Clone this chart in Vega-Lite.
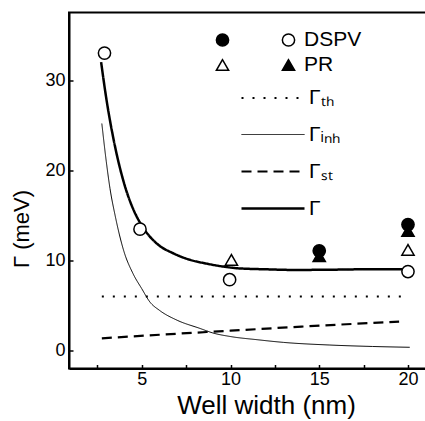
{
  "$schema": "https://vega.github.io/schema/vega-lite/v6.json",
  "width": 394,
  "height": 356,
  "autosize": "none",
  "padding": {"left": 69, "top": 12.5, "right": 0, "bottom": 52.5},
  "background": "white",
  "config": {
    "font": "Liberation Sans",
    "view": {"stroke": "black", "strokeWidth": 2},
    "axis": {
      "domainColor": "black", "domainWidth": 2,
      "tickColor": "black", "tickWidth": 1.5, "tickSize": -4,
      "labelFontSize": 18, "labelColor": "black", "titleColor": "black",
      "grid": false, "labelFlush": false, "labelOverlap": false,
      "titleFontWeight": "normal", "titleFont": "Liberation Sans", "labelFont": "Liberation Sans"
    },
    "legend": {"labelFontSize": 21, "labelColor": "black", "labelFont": "Liberation Sans", "padding": 0, "symbolOpacity": 1}
  },
  "datasets": {
    "curves": [
      {"x": 2.75, "y": 6.05, "curve": "Γₜₕ"},
      {"x": 19.7, "y": 6.05, "curve": "Γₜₕ"},
      {"x": 2.75, "y": 25.2, "curve": "Γᵢₙₕ"},
      {"x": 3.0, "y": 21.0, "curve": "Γᵢₙₕ"},
      {"x": 3.21, "y": 18.0, "curve": "Γᵢₙₕ"},
      {"x": 3.5, "y": 15.0, "curve": "Γᵢₙₕ"},
      {"x": 4.0, "y": 11.0, "curve": "Γᵢₙₕ"},
      {"x": 4.5, "y": 8.6, "curve": "Γᵢₙₕ"},
      {"x": 5.0, "y": 6.9, "curve": "Γᵢₙₕ"},
      {"x": 5.47, "y": 5.4, "curve": "Γᵢₙₕ"},
      {"x": 6.0, "y": 4.5, "curve": "Γᵢₙₕ"},
      {"x": 7.0, "y": 3.4, "curve": "Γᵢₙₕ"},
      {"x": 8.28, "y": 2.5, "curve": "Γᵢₙₕ"},
      {"x": 9.0, "y": 2.0, "curve": "Γᵢₙₕ"},
      {"x": 10.0, "y": 1.6, "curve": "Γᵢₙₕ"},
      {"x": 11.5, "y": 1.25, "curve": "Γᵢₙₕ"},
      {"x": 13.0, "y": 0.95, "curve": "Γᵢₙₕ"},
      {"x": 15.6, "y": 0.66, "curve": "Γᵢₙₕ"},
      {"x": 18.0, "y": 0.5, "curve": "Γᵢₙₕ"},
      {"x": 20.1, "y": 0.41, "curve": "Γᵢₙₕ"},
      {"x": 2.75, "y": 1.4, "curve": "Γₛₜ"},
      {"x": 6.0, "y": 1.8, "curve": "Γₛₜ"},
      {"x": 10.0, "y": 2.25, "curve": "Γₛₜ"},
      {"x": 14.0, "y": 2.7, "curve": "Γₛₜ"},
      {"x": 19.5, "y": 3.25, "curve": "Γₛₜ"},
      {"x": 2.71, "y": 32.0, "curve": "Γ"},
      {"x": 3.0, "y": 28.0, "curve": "Γ"},
      {"x": 3.5, "y": 22.6, "curve": "Γ"},
      {"x": 4.0, "y": 18.6, "curve": "Γ"},
      {"x": 4.5, "y": 15.8, "curve": "Γ"},
      {"x": 5.0, "y": 13.9, "curve": "Γ"},
      {"x": 5.85, "y": 11.9, "curve": "Γ"},
      {"x": 6.8, "y": 10.8, "curve": "Γ"},
      {"x": 7.72, "y": 10.1, "curve": "Γ"},
      {"x": 8.6, "y": 9.7, "curve": "Γ"},
      {"x": 9.6, "y": 9.35, "curve": "Γ"},
      {"x": 10.5, "y": 9.15, "curve": "Γ"},
      {"x": 12.0, "y": 9.05, "curve": "Γ"},
      {"x": 13.5, "y": 8.98, "curve": "Γ"},
      {"x": 15.5, "y": 9.0, "curve": "Γ"},
      {"x": 17.5, "y": 9.05, "curve": "Γ"},
      {"x": 19.8, "y": 9.05, "curve": "Γ"}
    ],
    "pointsA": [
      {"x": 15.0, "y": 11.1, "series": "DSPV a"},
      {"x": 20.0, "y": 14.0, "series": "DSPV a"},
      {"x": 10.05, "y": 10.1, "series": "PR a"},
      {"x": 20.0, "y": 11.2, "series": "PR a"}
    ],
    "pointsB": [
      {"x": 2.9, "y": 33.0, "series": "DSPV b"},
      {"x": 4.9, "y": 13.5, "series": "DSPV b"},
      {"x": 9.95, "y": 7.9, "series": "DSPV b"},
      {"x": 20.0, "y": 8.8, "series": "DSPV b"},
      {"x": 15.0, "y": 10.5, "series": "PR b"},
      {"x": 20.0, "y": 13.3, "series": "PR b"}
    ]
  },
  "encoding": {
    "x": {
      "field": "x", "type": "quantitative",
      "scale": {"domain": [0.9, 23.1], "nice": false, "zero": false},
      "axis": {
        "values": [2.5, 5, 7.5, 10, 12.5, 15, 17.5, 20, 22.5],
        "labelExpr": "datum.value % 5 === 0 ? datum.label : ''",
        "labelPadding": 5.5,
        "title": "Well width (nm)", "titleFontSize": 26,
        "titleX": 197, "titleY": 44.5, "titleAlign": "center", "titleBaseline": "alphabetic"
      }
    },
    "y": {
      "field": "y", "type": "quantitative",
      "scale": {"domain": [-1.94, 37.5], "nice": false, "zero": false},
      "axis": {
        "values": [0, 10, 20, 30],
        "labelPadding": 8,
        "title": "Γ (meV)", "titleFontSize": 22, "titleAngle": 270,
        "titleX": -48, "titleY": 216, "titleAlign": "center", "titleBaseline": "middle"
      }
    }
  },
  "layer": [
    {
      "data": {"name": "curves"},
      "mark": {"type": "line", "color": "black", "interpolate": "monotone", "strokeCap": "butt"},
      "encoding": {
        "strokeDash": {
          "field": "curve", "type": "nominal",
          "scale": {"domain": ["Γₜₕ", "Γᵢₙₕ", "Γₛₜ", "Γ"], "range": [[2, 9], [1, 0], [10, 6], [1, 0]]},
          "legend": {"orient": "none", "legendX": 192, "legendY": 74, "title": null, "symbolType": "M-3,0L3,0", "symbolSize": 441, "labelOffset": 24, "rowPadding": 15, "symbolStrokeColor": "black"}
        },
        "strokeWidth": {
          "field": "curve", "type": "nominal",
          "scale": {"type": "ordinal", "domain": ["Γₜₕ", "Γᵢₙₕ", "Γₛₜ", "Γ"], "range": [2, 1, 2.2, 2.5]},
          "legend": {"orient": "none", "legendX": 192, "legendY": 74, "title": null, "symbolType": "M-3,0L3,0", "symbolSize": 441, "labelOffset": 24, "rowPadding": 15, "symbolStrokeColor": "black"}
        }
      }
    },
    {
      "data": {"name": "pointsA"},
      "mark": {"type": "point", "stroke": "black", "strokeWidth": 1.5, "size": 150, "opacity": 1},
      "encoding": {
        "shape": {
          "field": "series", "type": "nominal",
          "scale": {"domain": ["DSPV a", "PR a"], "range": ["circle", "triangle-up"]},
          "legend": {"orient": "none", "legendX": 143, "legendY": 17, "title": null, "symbolSize": 150, "labelOffset": 5, "rowPadding": 3, "labelExpr": "' '",
            "encode": {"symbols": {"update": {"stroke": {"value": "black"}, "strokeWidth": {"value": 1.5}}}}}
        },
        "fill": {
          "field": "series", "type": "nominal",
          "scale": {"domain": ["DSPV a", "PR a"], "range": ["black", "white"]},
          "legend": {"orient": "none", "legendX": 143, "legendY": 17, "title": null, "symbolSize": 150, "labelOffset": 5, "rowPadding": 3, "labelExpr": "' '",
            "encode": {"symbols": {"update": {"stroke": {"value": "black"}, "strokeWidth": {"value": 1.5}}}}}
        }
      }
    },
    {
      "data": {"name": "pointsB"},
      "mark": {"type": "point", "stroke": "black", "strokeWidth": 1.5, "size": 150, "opacity": 1},
      "encoding": {
        "shape": {
          "field": "series", "type": "nominal",
          "scale": {"domain": ["DSPV b", "PR b"], "range": ["circle", "triangle-up"]},
          "legend": {"orient": "none", "legendX": 209, "legendY": 17, "title": null, "symbolSize": 150, "labelOffset": 5, "rowPadding": 3,
            "labelExpr": "datum.value == 'DSPV b' ? 'DSPV' : 'PR'",
            "encode": {"symbols": {"update": {"stroke": {"value": "black"}, "strokeWidth": {"value": 1.5}}}}}
        },
        "fill": {
          "field": "series", "type": "nominal",
          "scale": {"domain": ["DSPV b", "PR b"], "range": ["white", "black"]},
          "legend": {"orient": "none", "legendX": 209, "legendY": 17, "title": null, "symbolSize": 150, "labelOffset": 5, "rowPadding": 3,
            "labelExpr": "datum.value == 'DSPV b' ? 'DSPV' : 'PR'",
            "encode": {"symbols": {"update": {"stroke": {"value": "black"}, "strokeWidth": {"value": 1.5}}}}}
        }
      }
    }
  ],
  "resolve": {
    "scale": {"shape": "independent", "fill": "independent"},
    "legend": {"shape": "independent", "fill": "independent"}
  }
}
